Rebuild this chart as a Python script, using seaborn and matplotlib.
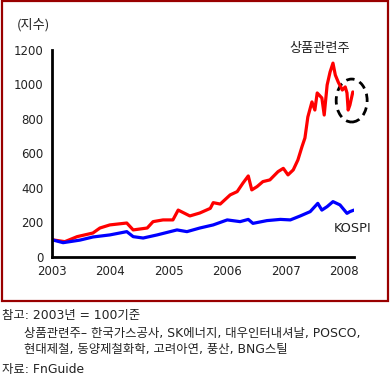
import matplotlib
matplotlib.use("Agg")
import matplotlib.pyplot as plt
from matplotlib.patches import Rectangle, Ellipse
import seaborn as sns
import pandas as pd

# --- data ---
red_years = [2003.00, 2003.22, 2003.43, 2003.70, 2003.82, 2003.99, 2004.28, 2004.39,
             2004.63, 2004.73, 2004.90, 2005.07, 2005.16, 2005.36, 2005.53, 2005.71,
             2005.76, 2005.88, 2006.05, 2006.17, 2006.27, 2006.36, 2006.42, 2006.51,
             2006.61, 2006.73, 2006.87, 2006.96, 2007.04, 2007.13, 2007.21, 2007.28,
             2007.33, 2007.38, 2007.45, 2007.50, 2007.54, 2007.62, 2007.66, 2007.71,
             2007.76, 2007.81, 2007.85, 2007.90, 2007.97, 2008.02, 2008.05, 2008.07,
             2008.10, 2008.15]
red_values = [100, 89, 118, 139, 168, 186, 197, 157,
              168, 205, 215, 215, 272, 238, 255, 282,
              315, 307, 360, 379, 429, 470, 389, 408,
              437, 447, 495, 514, 476, 505, 563, 640,
              690, 812, 899, 852, 951, 922, 823, 997,
              1072, 1124, 1055, 1014, 968, 986, 951, 852,
              881, 957]

blue_years = [2003.00, 2003.19, 2003.48, 2003.70, 2003.99, 2004.28, 2004.39, 2004.56,
              2004.80, 2005.14, 2005.31, 2005.53, 2005.76, 2006.00, 2006.22, 2006.36,
              2006.44, 2006.68, 2006.91, 2007.08, 2007.25, 2007.42, 2007.55, 2007.62,
              2007.71, 2007.81, 2007.93, 2008.05, 2008.10, 2008.17]
blue_values = [100, 83, 98, 116, 128, 147, 118, 110,
               128, 157, 147, 168, 186, 215, 205, 218,
               195, 211, 218, 215, 238, 263, 311, 272,
               292, 321, 302, 253, 263, 272]

series_names = ["상품관련주", "KOSPI"]
x_ticks = [2003, 2004, 2005, 2006, 2007, 2008]
y_ticks = [0, 200, 400, 600, 800, 1000, 1200]

df = pd.concat([
    pd.DataFrame({"year": red_years, "value": red_values, "series": series_names[0]}),
    pd.DataFrame({"year": blue_years, "value": blue_values, "series": series_names[1]}),
])

sns.set_style("white")
plt.rcParams["font.family"] = ["DejaVu Sans", "Noto Sans CJK KR"]
KR = ["Noto Sans CJK KR", "DejaVu Sans"]
MIX = ["DejaVu Sans", "Noto Sans CJK KR"]
TXT = "#222222"

W, H = 391, 381
fig = plt.figure(figsize=(W / 100, H / 100), dpi=100)
ax = fig.add_axes([52 / W, 1 - 257 / H, (354 - 52) / W, (257 - 50) / H])

sns.lineplot(data=df, x="year", y="value", hue="series", ax=ax,
             palette={"상품관련주": "#FF0000", "KOSPI": "#0000FF"},
             linewidth=2.3, legend=False, estimator=None, sort=True)

ax.set_xlim(2003, 2008.17)
ax.set_ylim(0, 1200)
ax.set_xticks(x_ticks)
ax.set_xticklabels([str(t) for t in x_ticks])
ax.set_yticks(y_ticks)
ax.set_yticklabels([str(t) for t in y_ticks])
ax.set_xlabel("")
ax.set_ylabel("")
for s in ["top", "right"]:
    ax.spines[s].set_visible(False)
for s in ["left", "bottom"]:
    ax.spines[s].set_linewidth(2)
    ax.spines[s].set_color("black")
ax.tick_params(axis="both", direction="out", length=3, width=2, colors="black",
               labelsize=8.5, labelcolor=TXT, pad=3)
ax.patch.set_alpha(0)

# annotations
ax.text(2007.59, 1206, "상품관련주", ha="center", va="center", fontsize=9.5,
        color=TXT, family=KR, clip_on=False)
ax.text(2008.15, 168, "KOSPI", ha="center", va="center", fontsize=9.3,
        color=TXT, family=MIX, clip_on=False)
ax.add_patch(Ellipse((2008.13, 907), 0.53, 249, fill=False, linestyle=(0, (3, 2)),
                     linewidth=2, edgecolor="black", clip_on=False))

fig.text(33 / W, 1 - 25 / H, "(지수)", ha="center", va="center", fontsize=9.5,
         color=TXT, family=KR)

# frame
fig.patches.append(Rectangle((2 / W, 1 - 300.5 / H), 385.5 / W, 299.5 / H,
                             transform=fig.transFigure, fill=False,
                             edgecolor="#990000", linewidth=1.6))

# notes
NS = 8.9
fig.text(2 / W, 1 - 315 / H, "참고: 2003년 = 100기준", ha="left", va="center",
         fontsize=NS, color=TXT, family=MIX)
fig.text(24 / W, 1 - 333 / H, "상품관련주– 한국가스공사, SK에너지, 대우인터내셔날, POSCO,",
         ha="left", va="center", fontsize=NS, color=TXT, family=MIX)
fig.text(24 / W, 1 - 350 / H, "현대제철, 동양제철화학, 고려아연, 풍산, BNG스틸",
         ha="left", va="center", fontsize=NS, color=TXT, family=MIX)
fig.text(2 / W, 1 - 370 / H, "자료: FnGuide", ha="left", va="center",
         fontsize=NS, color=TXT, family=MIX)

fig.savefig("out.png", dpi=100)
